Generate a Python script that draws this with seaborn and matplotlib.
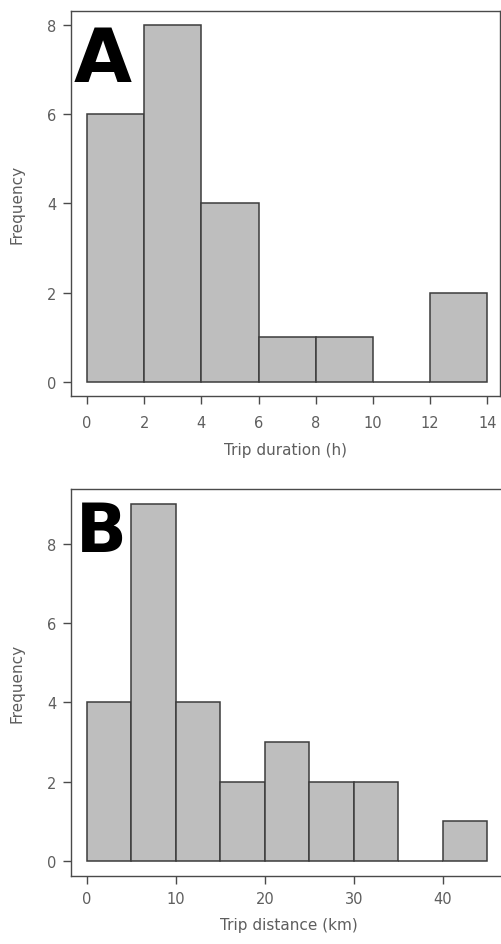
import numpy as np
import pandas as pd
import matplotlib
matplotlib.use("Agg")
import matplotlib.pyplot as plt
import seaborn as sns

# Trip duration histogram (hours)
duration_edges = [0, 2, 4, 6, 8, 10, 12, 14]
duration_counts = [6, 8, 4, 1, 1, 0, 2]

# Trip distance histogram (km)
distance_edges = [0, 5, 10, 15, 20, 25, 30, 35, 40, 45]
distance_counts = [4, 9, 4, 2, 3, 2, 2, 0, 1]

sns.set_theme(style="white")
plt.rcParams["font.family"] = ["DejaVu Sans"]

fig = plt.figure(figsize=(5.02, 9.45), dpi=100)
ax_a = fig.add_axes([0.1414, 0.5799, 0.855, 0.4074])
ax_b = fig.add_axes([0.1414, 0.0720, 0.870, 0.4095])

text_col = "#5e5e5e"
spine_col = "#4a4a4a"


def draw_hist(ax, edges, counts, xlabel, xticks, xlim, ylim, letter, letter_size,
              letter_x, letter_y, xpad, xlabelpad):
    e = np.asarray(edges, dtype=float)
    mids = (e[:-1] + e[1:]) / 2
    df = pd.DataFrame({"x": mids, "n": counts})
    sns.histplot(data=df, x="x", weights="n", bins=list(edges), ax=ax,
                 color="#bebebe", alpha=1.0, edgecolor="#3c3c3c", linewidth=1.1)
    ax.set_xlim(*xlim)
    ax.set_ylim(*ylim)
    ax.set_xticks(xticks)
    ax.set_yticks([0, 2, 4, 6, 8])
    ax.set_xlabel(xlabel, fontsize=11, color=text_col, labelpad=xlabelpad)
    ax.set_ylabel("Frequency", fontsize=11, color=text_col, labelpad=16)
    ax.tick_params(axis="both", direction="out", length=6, width=1,
                   color=spine_col, labelcolor=text_col, labelsize=10.5,
                   bottom=True, left=True)
    ax.tick_params(axis="x", pad=xpad)
    ax.tick_params(axis="y", pad=4.5)
    for s in ax.spines.values():
        s.set_color(spine_col)
        s.set_linewidth(1.0)
    ax.text(letter_x, letter_y, letter, transform=ax.transAxes, ha="left", va="top",
            fontsize=letter_size, fontweight="bold", color="black")


draw_hist(ax_a, duration_edges, duration_counts, "Trip duration (h)",
          list(range(0, 15, 2)), (-0.56, 14.45), (-0.31, 8.31), "A", 54,
          0.007, 0.966, 7.5, 9)
draw_hist(ax_b, distance_edges, distance_counts, "Trip distance (km)",
          [0, 10, 20, 30, 40], (-1.8, 47.3), (-0.38, 9.39), "B", 48,
          0.012, 0.975, 4.5, 8)

fig.savefig("out.png", dpi=100)
